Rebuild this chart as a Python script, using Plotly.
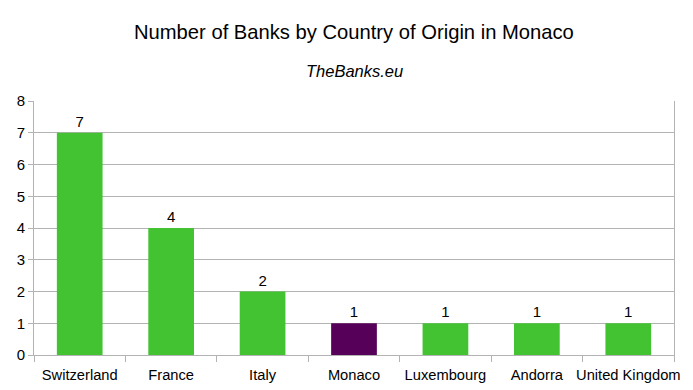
import plotly.graph_objects as go

countries = ["Switzerland", "France", "Italy", "Monaco", "Luxembourg", "Andorra", "United Kingdom"]
banks = [7, 4, 2, 1, 1, 1, 1]
colors = ["#43c332" if c != "Monaco" else "#560059" for c in countries]

fig = go.Figure(go.Bar(
    x=countries, y=banks, marker=dict(color=colors, line=dict(width=0)),
    width=0.5, text=[str(v) for v in banks], textposition="outside",
    textfont=dict(size=15, color="#000000", family="Liberation Sans"),
    cliponaxis=False,
))

grid = "#b3b3b3"
# page body offsets the figure by 8px; compensate
OFF = 8
W = 693; H = 390
left = 34 - OFF; right = W - (674 - OFF); top = 101 - OFF; bottom = H - (355 - OFF)
ph = H - top - bottom

def py(p):
    return (H - bottom - (p - OFF)) / ph

fig.update_layout(
    width=W, height=H,
    margin=dict(l=left, r=right, t=top, b=bottom, autoexpand=False),
    paper_bgcolor="white", plot_bgcolor="white",
    font=dict(family="Liberation Sans", size=15, color="#000000"),
    showlegend=False,
    bargap=0.5,
    xaxis=dict(showline=True, linecolor=grid, linewidth=1, ticks="outside",
               tickson="boundaries", ticklen=6, tickcolor=grid, showgrid=False,
               tickangle=0, automargin=False, ticklabelstandoff=6, tickfont=dict(size=14.7)),
    yaxis=dict(range=[0, 8], dtick=1, showgrid=True, gridcolor=grid, gridwidth=1,
               showline=True, linecolor=grid, mirror=True, ticks="outside", ticklen=5,
               tickcolor=grid, zeroline=False, automargin=False, tickfont=dict(size=15)),
    annotations=[
        dict(text="Number of Banks by Country of Origin in Monaco", x=0.5, y=py(32),
             xref="paper", yref="paper", yanchor="middle", showarrow=False, font=dict(size=20.2)),
        dict(text="<i>TheBanks.eu</i>", x=0.5, y=py(71), xref="paper", yref="paper",
             yanchor="middle", showarrow=False, font=dict(size=16.5)),
    ],
)

fig.write_html("out.html")
